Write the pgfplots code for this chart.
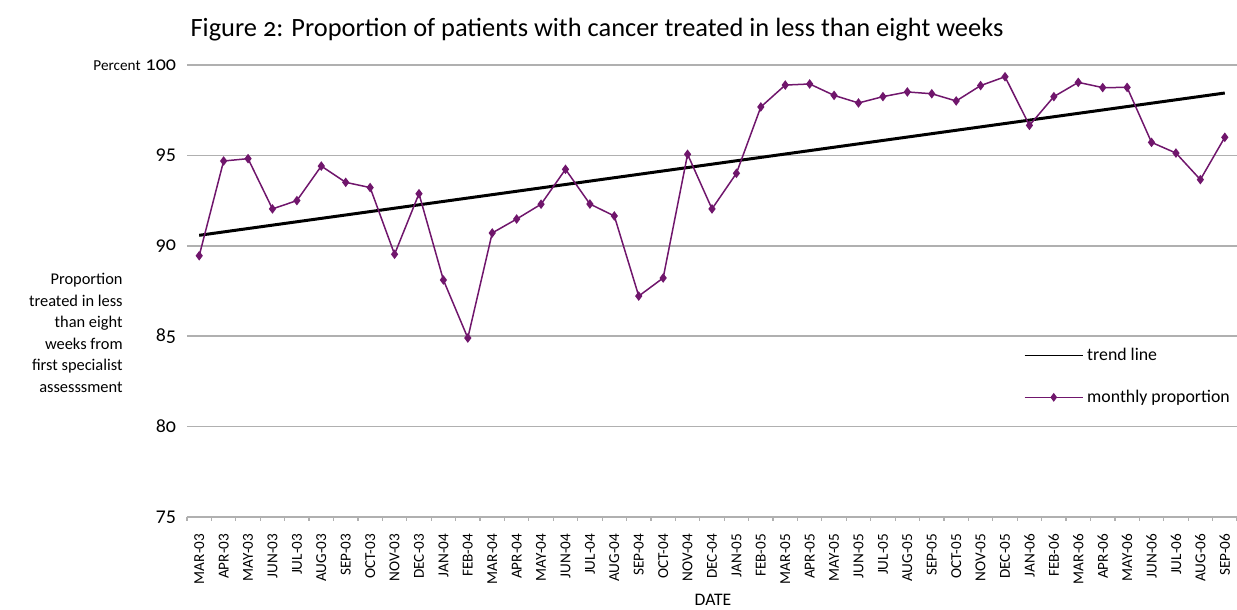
\documentclass[border=0pt]{standalone}
\usepackage{fontspec}
\setmainfont{Carlito}[Numbers=OldStyle]
\newfontfamily\calib{Carlito}
\usepackage{pgfplots}
\pgfplotsset{compat=1.18}
\definecolor{mpurple}{RGB}{112,22,108}
\definecolor{gridgray}{RGB}{176,176,176}
\pgfplotstableread{
x y
0 89.45
1 94.69
2 94.82
3 92.04
4 92.50
5 94.41
6 93.51
7 93.22
8 89.53
9 92.88
10 88.11
11 84.90
12 90.71
13 91.48
14 92.30
15 94.23
16 92.31
17 91.65
18 87.22
19 88.22
20 95.06
21 92.04
22 94.01
23 97.68
24 98.89
25 98.95
26 98.32
27 97.90
28 98.25
29 98.51
30 98.41
31 98.01
32 98.86
33 99.35
34 96.66
35 98.25
36 99.04
37 98.75
38 98.76
39 95.72
40 95.13
41 93.66
42 96.00
}\monthly
\begin{document}
\begin{tikzpicture}
\begin{axis}[
  name=ax,
  scale only axis,
  width=525pt, height=226pt,
  xmin=-0.5, xmax=42.5,
  ymin=75, ymax=100,
  ytick={75,80,85,90,95,100},
  yticklabels={75,80,85,90,95,100},
  yticklabel style={font=\fontsize{10}{11}\selectfont, inner sep=0pt, xshift=-1pt},
  ytick style={draw=none},
  ymajorgrids,
  grid style={gridgray, line width=0.8pt},
  axis x line*=bottom,
  axis y line*=left,
  y axis line style={draw=none},
  x axis line style={gridgray, line width=0.8pt},
  xtick={0,...,42},
  xticklabels={MAR-03,APR-03,MAY-03,JUN-03,JUL-03,AUG-03,SEP-03,OCT-03,NOV-03,DEC-03,
    JAN-04,FEB-04,MAR-04,APR-04,MAY-04,JUN-04,JUL-04,AUG-04,SEP-04,OCT-04,NOV-04,DEC-04,
    JAN-05,FEB-05,MAR-05,APR-05,MAY-05,JUN-05,JUL-05,AUG-05,SEP-05,OCT-05,NOV-05,DEC-05,
    JAN-06,FEB-06,MAR-06,APR-06,MAY-06,JUN-06,JUL-06,AUG-06,SEP-06},
  xticklabel style={font=\calib\fontsize{7.6}{9}\selectfont, rotate=90, anchor=east, inner sep=0pt},
  xticklabel shift=4pt,
  major x tick style={draw=none},
  minor xtick={-0.5,0.5,...,42.5},
  minor x tick style={gridgray, line width=0.6pt},
  minor tick length=2pt,
  tick align=outside,
  clip=false,
  legend style={draw=none, fill=none, at={(0.797,0.383)}, anchor=north west,
    font=\fontsize{8.9}{10}\selectfont, row sep=9pt, inner sep=0pt,
    /tikz/every even column/.append style={column sep=6pt}},
  legend cell align=left,
  legend image code/.code={\draw[mark repeat=2,mark phase=2,#1,line width=0.5pt] plot coordinates {(0pt,0pt) (14.5pt,0pt) (29pt,0pt)};},
]
\addplot[black, line width=1.5pt, mark=none] coordinates {(0,90.58) (42,98.45)};
\addlegendentry{trend line}
\addplot[mpurple, line width=0.75pt, mark=diamond*, mark size=1.8pt, mark options={fill=mpurple}] table[x=x,y=y] {\monthly};
\addlegendentry{monthly proportion}
\end{axis}
\node[anchor=base, font=\fontsize{13.2}{15}\selectfont] at (205pt,240pt) {Figure 2: Proportion of patients with cancer treated in less than eight weeks};
\node[anchor=east, font=\calib\fontsize{7.6}{9}\selectfont, inner sep=0pt] at (-23pt,225.5pt) {Percent};
\node[anchor=east, align=right, inner sep=0pt, font=\fontsize{8.2}{10.75}\selectfont] at (-32pt,92pt) {Proportion\\treated in less\\than eight\\weeks from\\first specialist\\assesssment};
\node[font=\calib\fontsize{8.8}{10}\selectfont, inner sep=0pt] at (263pt,-41.5pt) {DATE};
\pgfresetboundingbox
\path[use as bounding box] (-93.5pt,-46.5pt) rectangle (525pt,258.5pt);
\end{tikzpicture}
\end{document}
